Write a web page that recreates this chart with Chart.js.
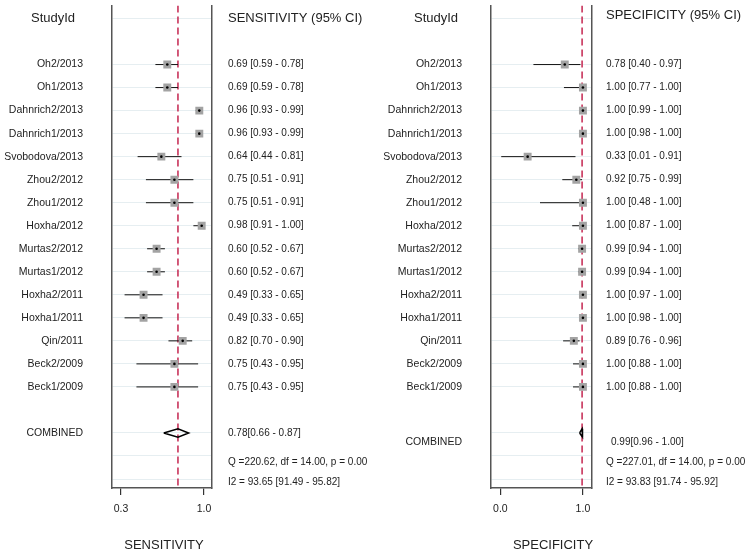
<!DOCTYPE html>
<html>
<head>
<meta charset="utf-8">
<script src="https://cdn.jsdelivr.net/npm/chart.js@4.4.1/dist/chart.umd.min.js"></script>
<style>
  html, body { margin: 0; padding: 0; background: #fff; }
  #wrap { position: relative; width: 751px; height: 553px; overflow: hidden; }
  canvas { position: absolute; top: 0; }
</style>
</head>
<body>
<div id="wrap">
  <canvas id="sens" width="376" height="553" style="left:0"></canvas>
  <canvas id="spec" width="375" height="553" style="left:376px"></canvas>
</div>
<script>
// ---- данные (читаются с картинки) ----
const STUDIES = ["Oh2/2013", "Oh1/2013", "Dahnrich2/2013", "Dahnrich1/2013", "Svobodova/2013",
  "Zhou2/2012", "Zhou1/2012", "Hoxha/2012", "Murtas2/2012", "Murtas1/2012",
  "Hoxha2/2011", "Hoxha1/2011", "Qin/2011", "Beck2/2009", "Beck1/2009"];

const SENS_EST = [0.69, 0.69, 0.96, 0.96, 0.64, 0.75, 0.75, 0.98, 0.60, 0.60, 0.49, 0.49, 0.82, 0.75, 0.75];
const SENS_LO  = [0.59, 0.59, 0.93, 0.93, 0.44, 0.51, 0.51, 0.91, 0.52, 0.52, 0.33, 0.33, 0.70, 0.43, 0.43];
const SENS_HI  = [0.78, 0.78, 0.99, 0.99, 0.81, 0.91, 0.91, 1.00, 0.67, 0.67, 0.65, 0.65, 0.90, 0.95, 0.95];
const SENS_COMBINED = [0.78, 0.66, 0.87];
const SENS_STATS = ["Q =220.62, df = 14.00, p = 0.00", "I2 = 93.65 [91.49 - 95.82]"];
const SENS_TICKS = [0.3, 1.0];

const SPEC_EST = [0.78, 1.00, 1.00, 1.00, 0.33, 0.92, 1.00, 1.00, 0.99, 0.99, 1.00, 1.00, 0.89, 1.00, 1.00];
const SPEC_LO  = [0.40, 0.77, 0.99, 0.98, 0.01, 0.75, 0.48, 0.87, 0.94, 0.94, 0.97, 0.98, 0.76, 0.88, 0.88];
const SPEC_HI  = [0.97, 1.00, 1.00, 1.00, 0.91, 0.99, 1.00, 1.00, 1.00, 1.00, 1.00, 1.00, 0.96, 1.00, 1.00];
const SPEC_COMBINED = [0.99, 0.96, 1.00];
const SPEC_STATS = ["Q =227.01, df = 14.00, p = 0.00", "I2 = 93.83 [91.74 - 95.92]"];
const SPEC_TICKS = [0.0, 1.0];

// строки: 0 = заголовок, 2..16 = исследования, 18 = COMBINED
const FIRST_ROW = 2;
const COMBINED_ROW = 18;
const GRID_ROWS = [0, 2, 3, 4, 5, 6, 7, 8, 9, 10, 11, 12, 13, 14, 15, 16, 18, 19, 20];
const Y_MIN = -0.56, Y_MAX = 20.39;

const FONT = "'Liberation Sans', Arial, sans-serif";
const TXT = "#222";

function ciText(e, lo, hi) {
  return `${e.toFixed(2)} [${lo.toFixed(2)} - ${hi.toFixed(2)}]`;
}

// текст колонок рисуем через шкалу y
const textPlugin = {
  id: "forestText",
  afterDraw(chart) {
    const p = chart.options.plugins.forestText;
    const ctx = chart.ctx, y = chart.scales.y;
    const py = v => y.getPixelForValue(v);
    ctx.save();
    ctx.fillStyle = TXT;
    ctx.textBaseline = "middle";

    ctx.font = `13px ${FONT}`;
    ctx.textAlign = "center";
    ctx.fillText("StudyId", p.idX, py(0));
    ctx.textAlign = "left";
    ctx.fillText(p.header, p.valX, py(p.headerRow));

    ctx.font = `10.5px ${FONT}`;
    ctx.textAlign = "right";
    STUDIES.forEach((s, i) => ctx.fillText(s, p.labelX, py(FIRST_ROW + i)));
    ctx.fillText("COMBINED", p.labelX, py(p.combRow));

    ctx.font = `10px ${FONT}`;
    ctx.textAlign = "left";
    p.est.forEach((e, i) => ctx.fillText(ciText(e, p.lo[i], p.hi[i]), p.valX, py(FIRST_ROW + i)));
    const c = p.comb;
    ctx.fillText(`${c[0].toFixed(2)}[${c[1].toFixed(2)} - ${c[2].toFixed(2)}]`, p.combX, py(p.combRow));
    ctx.fillText(p.stats[0], p.valX, py(19.25));
    ctx.fillText(p.stats[1], p.valX, py(20.15));

    ctx.font = `13px ${FONT}`;
    ctx.textAlign = "center";
    ctx.fillText(p.title, p.titleX, 545);
    ctx.restore();
  }
};

function makePanel(id, cfg) {
  const rows = cfg.est.map((_, i) => FIRST_ROW + i);
  // отрезки ДИ одним набором с разрывами
  const ci = [];
  cfg.est.forEach((_, i) => {
    ci.push({ x: cfg.lo[i], y: rows[i] }, { x: cfg.hi[i], y: rows[i] }, { x: null, y: null });
  });
  const [ce, clo, chi] = cfg.comb;
  const dh = 0.18;
  const diamond = [
    { x: clo, y: COMBINED_ROW }, { x: ce, y: COMBINED_ROW - dh },
    { x: chi, y: COMBINED_ROW }, { x: ce, y: COMBINED_ROW + dh }, { x: clo, y: COMBINED_ROW }
  ];
  const points = cfg.est.map((e, i) => ({ x: e, y: rows[i] }));

  return new Chart(document.getElementById(id), {
    type: "scatter",
    data: {
      datasets: [
        { data: points, pointStyle: "circle", pointRadius: 1.3, backgroundColor: "#000", borderWidth: 0, order: 0 },
        { data: points, pointStyle: "rect", pointRadius: 5.6, backgroundColor: "#a3a3a3", borderWidth: 0, order: 1 },
        { type: "line", data: ci, borderColor: "#111", borderWidth: 1, pointRadius: 0, spanGaps: false, order: 2 },
        { type: "line", data: diamond, borderColor: "#000", borderWidth: 1.5, pointRadius: 0, fill: false, order: 3 },
        { type: "line", data: [{ x: ce, y: Y_MIN }, { x: ce, y: Y_MAX }], borderColor: "#c8325a",
          borderWidth: 1.6, borderDash: [7, 4], pointRadius: 0, order: 4 },
      ],
    },
    options: {
      responsive: false,
      animation: false,
      events: [],
      layout: { padding: cfg.padding },
      plugins: { legend: { display: false }, tooltip: { enabled: false }, forestText: cfg.text },
      scales: {
        x: {
          type: "linear", min: cfg.xMin, max: cfg.xMax,
          afterBuildTicks: s => { s.ticks = cfg.ticks.map(v => ({ value: v })); },
          afterFit: s => { s.height = 65; },
          ticks: { callback: v => v.toFixed(1), font: { size: 10.5, family: FONT }, color: TXT, padding: 8 },
          grid: { drawOnChartArea: false, drawTicks: true, tickLength: 7, color: "#333", lineWidth: 1.2 },
          border: { display: true, color: "#555", width: 1.5 },
        },
        y: {
          type: "linear", reverse: true, min: Y_MIN, max: Y_MAX,
          afterBuildTicks: s => { s.ticks = GRID_ROWS.map(v => ({ value: v })); },
          afterFit: s => { s.width = 0; },
          ticks: { display: false },
          grid: { color: "#e6eef1", lineWidth: 1, drawTicks: false },
          border: { display: true, color: "#555", width: 1.5 },
        },
        y2: {
          type: "linear", position: "right", reverse: true, min: Y_MIN, max: Y_MAX,
          afterFit: s => { s.width = 0; },
          ticks: { display: false },
          grid: { drawOnChartArea: false, drawTicks: false },
          border: { display: true, color: "#555", width: 1.5 },
        },
      },
    },
    plugins: [textPlugin],
  });
}

makePanel("sens", {
  est: SENS_EST, lo: SENS_LO, hi: SENS_HI, comb: SENS_COMBINED, ticks: SENS_TICKS,
  xMin: 0.224, xMax: 1.067,
  padding: { left: 112, right: 164, top: 0, bottom: 0 },
  text: { header: "SENSITIVITY (95% CI)", headerRow: 0, title: "SENSITIVITY", titleX: 164,
          idX: 53, labelX: 83, valX: 228, combX: 228, combRow: COMBINED_ROW,
          est: SENS_EST, lo: SENS_LO, hi: SENS_HI, comb: SENS_COMBINED, stats: SENS_STATS },
});

makePanel("spec", {
  est: SPEC_EST, lo: SPEC_LO, hi: SPEC_HI, comb: SPEC_COMBINED, ticks: SPEC_TICKS,
  xMin: -0.114, xMax: 1.11,
  padding: { left: 115, right: 159, top: 0, bottom: 0 },
  text: { header: "SPECIFICITY (95% CI)", headerRow: -0.13, title: "SPECIFICITY", titleX: 177,
          idX: 60, labelX: 86, valX: 230, combX: 235, combRow: 18.4,
          est: SPEC_EST, lo: SPEC_LO, hi: SPEC_HI, comb: SPEC_COMBINED, stats: SPEC_STATS },
});
</script>
</body>
</html>
